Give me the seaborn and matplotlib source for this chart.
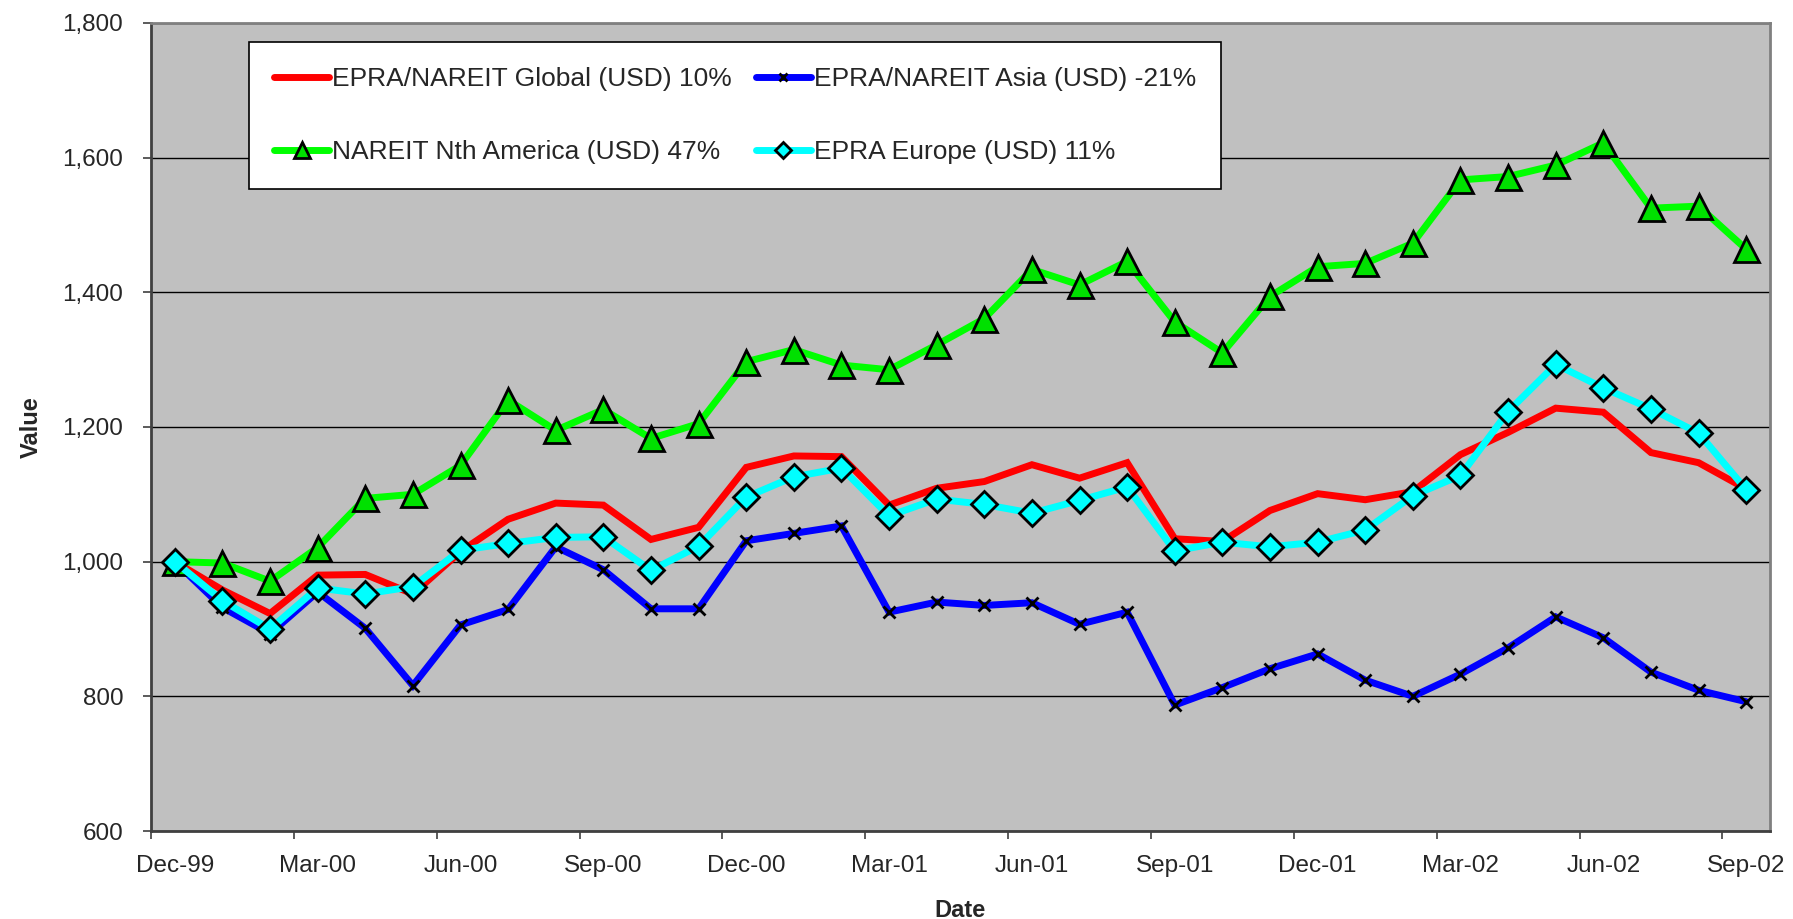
import matplotlib
matplotlib.use("Agg")
import matplotlib.pyplot as plt
from matplotlib.ticker import FuncFormatter, FixedLocator
import seaborn as sns
import pandas as pd
import numpy as np

months = ["Dec-99", "Jan-00", "Feb-00", "Mar-00", "Apr-00", "May-00", "Jun-00", "Jul-00",
          "Aug-00", "Sep-00", "Oct-00", "Nov-00", "Dec-00", "Jan-01", "Feb-01", "Mar-01",
          "Apr-01", "May-01", "Jun-01", "Jul-01", "Aug-01", "Sep-01", "Oct-01", "Nov-01",
          "Dec-01", "Jan-02", "Feb-02", "Mar-02", "Apr-02", "May-02", "Jun-02", "Jul-02",
          "Aug-02", "Sep-02"]

global_usd = [1000, 958, 923, 980, 981, 952, 1015, 1063, 1087, 1084, 1033, 1051,
              1140, 1157, 1156, 1084, 1109, 1119, 1144, 1124, 1147, 1034, 1030, 1076,
              1101, 1092, 1104, 1159, 1192, 1228, 1222, 1162, 1147, 1108]
asia_usd = [1000, 932, 893, 955, 901, 816, 906, 929, 1022, 988, 930, 930,
            1031, 1042, 1053, 925, 940, 935, 939, 907, 925, 787, 813, 841,
            863, 824, 800, 833, 872, 918, 887, 836, 809, 792]
namerica_usd = [1000, 998, 971, 1021, 1094, 1100, 1143, 1240, 1195, 1226, 1183, 1205,
                1297, 1315, 1292, 1285, 1322, 1361, 1434, 1411, 1446, 1356, 1310, 1394,
                1438, 1443, 1473, 1567, 1572, 1589, 1622, 1525, 1528, 1464]
europe_usd = [1000, 942, 900, 961, 952, 963, 1017, 1027, 1036, 1037, 987, 1023,
              1096, 1126, 1139, 1068, 1093, 1085, 1072, 1091, 1111, 1016, 1029, 1022,
              1029, 1047, 1098, 1128, 1223, 1293, 1258, 1227, 1191, 1107]

series_names = ["EPRA/NAREIT Global (USD) 10%", "EPRA/NAREIT Asia (USD) -21%",
                "NAREIT Nth America (USD) 47%", "EPRA Europe (USD) 11%"]

df = pd.DataFrame({
    "idx": np.tile(np.arange(len(months)), 4),
    "value": global_usd + asia_usd + namerica_usd + europe_usd,
    "series": np.repeat(series_names, len(months)),
})

styles = {
    series_names[0]: dict(color="#FF0000"),
    series_names[1]: dict(color="#0000FF", marker="x", markersize=8, markeredgecolor="black",
                          markeredgewidth=2),
    series_names[2]: dict(color="#00FF00", marker="^", markersize=18, markerfacecolor="#00E000",
                          markeredgecolor="black", markeredgewidth=2),
    series_names[3]: dict(color="#00FFFF", marker="D", markersize=13, markerfacecolor="#00FFFF",
                          markeredgecolor="black", markeredgewidth=2),
}

sns.set_style("white")
plt.rcParams["font.family"] = ["Liberation Sans", "DejaVu Sans"]

fig = plt.figure(figsize=(17.93, 9.19), dpi=100)
ax = fig.add_axes([151 / 1793, 1 - 831 / 919, (1770 - 151) / 1793, (831 - 23) / 919])
ax.set_facecolor("#C0C0C0")

for name in series_names:
    sub = df[df["series"] == name]
    sns.lineplot(data=sub, x="idx", y="value", ax=ax, linewidth=5, label=name,
                 solid_joinstyle="miter", **styles[name])

ax.set_ylim(600, 1800)
ax.set_yticks(np.arange(600, 1801, 200))
ax.yaxis.set_major_formatter(FuncFormatter(lambda v, p: f"{int(v):,}"))
ax.yaxis.grid(True, color="black", linewidth=1)
ax.xaxis.grid(False)
ax.set_axisbelow(True)

ax.set_xlim(-0.5, len(months) - 0.5)
ax.xaxis.set_major_locator(FixedLocator(np.arange(-0.5, len(months) - 0.5, 3)))
ax.xaxis.set_minor_locator(FixedLocator(np.arange(0, len(months), 3)))
ax.set_xticklabels([], minor=False)
ax.set_xticklabels([months[i] for i in range(0, len(months), 3)], minor=True)
ax.tick_params(axis="x", which="major", length=6, width=1.2, color="#404040", direction="out",
               bottom=True)
ax.tick_params(axis="x", which="minor", length=0, pad=17, labelsize=17.5, bottom=True)
ax.tick_params(axis="y", length=6, width=1.2, color="#404040", direction="out", labelsize=17.5,
               pad=14, left=True)

ax.set_xlabel("Date", fontsize=17, fontweight="bold", labelpad=16)
ax.set_ylabel("Value", fontsize=17, fontweight="bold", labelpad=14)

for s in ["left", "bottom"]:
    ax.spines[s].set_color("#404040")
    ax.spines[s].set_linewidth(2)
for s in ["top", "right"]:
    ax.spines[s].set_color("#808080")
    ax.spines[s].set_linewidth(2)

handles, labels = ax.get_legend_handles_labels()
order = [0, 2, 1, 3]
leg = ax.legend([handles[i] for i in order], [labels[i] for i in order], ncol=2,
                loc="upper left", bbox_to_anchor=(249 / 1793, 1 - 42 / 919),
                bbox_transform=fig.transFigure, borderaxespad=0, fontsize=19,
                frameon=True, fancybox=False, framealpha=1, edgecolor="black",
                handlelength=2.1, handletextpad=0.1, columnspacing=0.9,
                labelspacing=1.85, borderpad=0.95, markerscale=0.65)
leg.get_frame().set_linewidth(1.2)

fig.savefig("out.png", dpi=100, facecolor="white")
